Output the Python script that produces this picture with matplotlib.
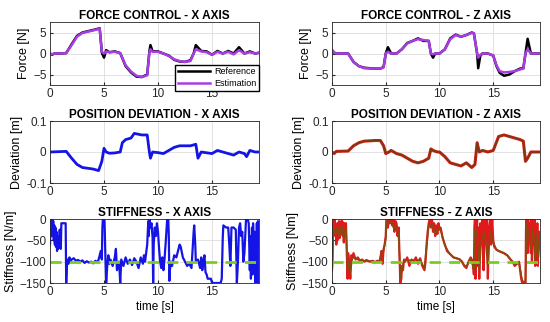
import matplotlib
matplotlib.use('Agg')
import matplotlib.pyplot as plt

plt.rcParams['font.family'] = ['Liberation Sans', 'DejaVu Sans']

# ---- force X ----
t_fx = [0, 0.2, 0.4, 1.0, 1.5, 2.0, 2.5, 3.0, 3.5, 4.0, 4.6, 4.8, 5.0, 5.2, 5.5, 6.0, 6.5,
        7.0, 7.5, 8.0, 8.5, 9.0, 9.2, 9.3, 9.5, 10.0, 10.5, 11.0, 11.5, 12.0, 12.5, 13.0,
        13.3, 13.5, 14.0, 14.5, 15.0, 15.5, 16.0, 16.5, 17.0, 17.5, 18.0, 18.5, 19.0, 19.4]
fx_ref = [0, -0.3, 0, 0, 0.1, 2.2, 4.2, 5.0, 5.3, 5.6, 6.0, 0.2, -1.0, 0.8, 0.3, 0.5, 0.1,
          -3.0, -4.5, -5.5, -5.6, -5.0, 0.5, 2.0, 0.5, 0.5, 0.0, -0.5, -1.5, -1.9, -2.0, -1.6,
          0.0, 2.0, 0.6, 0.5, -0.3, 0.6, 0.0, 0.6, 0.0, 1.5, 0.0, 0.5, 0.0, 0.2]
fx_est = [0, -0.2, 0, 0, 0.1, 2.0, 4.0, 4.9, 5.2, 5.5, 5.9, 0.4, 0.0, 0.5, 0.3, 0.4, 0.1,
          -2.8, -4.3, -5.3, -5.6, -5.2, 0.2, 1.0, 0.4, 0.4, 0.0, -0.6, -1.4, -1.8, -2.0, -1.8,
          0.0, 1.0, 0.5, 0.3, -0.3, 0.4, 0.0, 0.4, -0.2, 0.8, 0.0, 0.3, 0.0, 0.2]

# ---- force Z ----
t_fz = [0, 0.2, 0.4, 1.0, 1.5, 2.0, 2.5, 3.0, 4.0, 4.5, 4.8, 5.0, 5.2, 5.5, 6.0, 6.5, 7.0,
        7.5, 8.0, 8.5, 9.0, 9.2, 9.4, 9.6, 10.0, 10.5, 11.0, 11.5, 12.0, 12.5, 13.0, 13.2,
        13.5, 13.6, 13.8, 14.0, 14.5, 15.0, 15.3, 15.6, 16.0, 16.5, 17.0, 17.5, 17.8, 18.0,
        18.2, 18.5, 19.0, 19.4]
fz_ref = [0.8, 0.2, 0, 0, 0, -2.0, -3.0, -3.4, -3.6, -3.6, -3.2, 0.0, 1.5, 0.0, 0.0, 1.0, 2.5,
          3.0, 3.6, 3.0, 3.0, 0.0, -1.0, 0.0, 0.0, 1.0, 3.6, 4.5, 4.0, 4.4, 5.0, 4.8,
          0.0, -3.5, -0.5, 0.0, 0.0, -0.5, -3.0, -4.6, -5.3, -5.0, -4.2, -3.6, -3.5, 0.0,
          3.5, 0.0, 0.0, 0.0]
fz_est = [0.8, 0.2, 0, 0, 0, -2.0, -3.0, -3.5, -3.6, -3.6, -3.3, 0.0, 0.4, 0.0, 0.0, 1.0, 2.4,
          3.0, 3.4, 3.2, 3.0, 0.0, -0.2, 0.0, 0.0, 1.0, 3.4, 4.4, 4.0, 4.4, 4.9, 4.8,
          0.0, -1.0, -0.3, 0.0, 0.0, -0.5, -2.8, -4.2, -4.5, -4.4, -4.2, -3.8, -3.6, 0.0,
          1.0, 0.0, 0.0, 0.0]

# ---- position deviation X ----
t_px = [0, 1.5, 2.0, 2.5, 3.0, 4.0, 4.5, 4.8, 5.0, 5.2, 5.5, 6.0, 6.5, 6.7, 7.0, 7.5, 7.8,
        8.5, 9.0, 9.2, 9.3, 9.5, 10.0, 10.5, 11.0, 11.5, 12.0, 13.0, 13.5, 13.7, 14.0, 15.0,
        15.5, 16.0, 17.0, 17.5, 18.0, 18.2, 18.5, 19.0, 19.4]
px = [0, 0.002, -0.02, -0.04, -0.05, -0.055, -0.06, -0.03, 0.012, 0.0, -0.004, -0.003, 0.0,
      0.03, 0.04, 0.045, 0.06, 0.055, 0.055, 0.0, -0.02, 0.0, -0.002, -0.005, 0.005, 0.015,
      0.02, 0.02, 0.025, -0.02, 0.0, -0.005, 0.005, 0.0, -0.01, 0.0, -0.005, -0.015, 0.005,
      0.0, 0.0]

# ---- position deviation Z ----
t_pz = [0, 0.2, 0.4, 1.5, 2.0, 2.5, 3.0, 4.0, 4.5, 4.8, 5.0, 5.3, 5.5, 6.0, 6.5, 7.0, 7.5,
        8.0, 8.5, 9.0, 9.2, 9.4, 9.8, 10.0, 10.5, 11.0, 11.5, 12.0, 12.5, 13.0, 13.3, 13.5,
        13.7, 14.0, 14.5, 15.0, 15.5, 16.0, 16.5, 17.0, 17.5, 17.8, 18.0, 18.2, 18.5, 19.0,
        19.4]
pz = [0, -0.005, 0.002, 0.003, 0.02, 0.03, 0.035, 0.037, 0.037, 0.02, -0.005, 0.0, 0.005,
      -0.005, -0.01, -0.02, -0.03, -0.035, -0.03, -0.02, 0.01, 0.005, 0.0, 0.0, -0.015, -0.035,
      -0.04, -0.045, -0.035, -0.05, -0.04, 0.03, 0.0, 0.005, 0.0, 0.005, 0.05, 0.055, 0.05,
      0.045, 0.04, 0.035, -0.03, -0.02, 0.0, 0.0, 0.0]

# ---- stiffness X ----
t_sx = [0.0, 0.05, 0.1, 0.15, 0.2, 0.25, 0.3, 0.35, 0.4, 0.45, 0.5, 0.55, 0.6, 0.65, 0.7,
        0.75, 0.8, 0.85, 0.9, 0.95, 1.0, 1.05, 1.1, 1.45, 1.5, 1.55, 1.6, 1.7, 1.8, 1.9, 2.0,
        2.2, 2.4, 2.6, 2.8, 3.0, 3.2, 3.4, 3.6, 3.8, 4.0, 4.2, 4.4, 4.5, 4.6, 4.7, 4.8, 4.85,
        4.9, 5.0, 5.05, 5.1, 5.2, 5.3, 5.4, 5.5, 5.6, 5.8, 6.0, 6.1, 6.2, 6.4, 6.5, 6.6, 6.8,
        7.0, 7.2, 7.4, 7.6, 7.8, 8.0, 8.2, 8.4, 8.6, 8.7, 8.8, 8.9, 9.0, 9.05, 9.1, 9.15, 9.2,
        9.3, 9.4, 9.5, 9.55, 9.6, 9.7, 9.8, 9.9, 10.0, 10.1, 10.2, 10.3, 10.4, 10.5, 10.6,
        10.7, 10.8, 10.85, 10.95, 11.0, 11.05, 11.1, 11.2, 11.3, 11.5, 11.7, 11.9, 12.0, 12.1,
        12.3, 12.5, 12.7, 12.9, 13.1, 13.3, 13.35, 13.45, 13.5, 13.7, 13.9, 14.0, 14.1, 14.2,
        14.3, 14.4, 14.5, 14.6, 14.9, 15.0, 15.8, 15.9, 16.0, 16.05, 16.3, 16.5, 16.6, 16.7,
        16.8, 17.0, 17.2, 17.3, 17.4, 17.5, 17.6, 17.7, 17.8, 17.9, 18.0, 18.1, 18.15, 18.3,
        18.4, 18.5, 18.55, 18.6, 18.7, 18.75, 18.8, 18.9, 18.95, 19.0, 19.05, 19.1, 19.15,
        19.2, 19.25, 19.3, 19.35]
sx = [-60, -20, -5, -40, 0, -30, -5, -50, -15, -60, -20, -65, -30, -75, -50,
      -70, -40, -65, -25, -55, -70, -10, -10, -10, -150, -115, -95, -105, -90, -100, -95,
      -92, -98, -96, -100, -97, -103, -99, -102, -100, -104, -98, -101, -95, -85, -75, -95, -20,
      0, 0, -5, -60, -150, -110, -85, -105, -95, -110, -90, -70, -120, -100, -150, -95, -110,
      -90, -105, -95, -108, -92, -100, -115, -90, -105, -85, -100, -80, -60, -30, -5, -40, 0,
      -20, -10, -45, -150, -60, -20, -40, -10, -30, -70, -100, -115, -90, -120, -95,
      -60, -20, 0, 0, -40, -145, -120, -100, -110, -85, -90, -70, -60, -65,
      -90, -100, -110, -105, -115, -30, -15, -60, -100, -95, -115, -90, -120, -100,
      -85, -125, -130, -140, -140, -150, -150, -140, -40, -15, -20, -20, -60, -110,
      -20, -20, -25, -150, -100, -20, -10, -40, -30, -100, -80, -30, 0, 0,
      -10, -120, -40, -140, -20, -130, -10, -100, -30, -150, -50, -130, -10,
      -150, -5, -60, -30]

# ---- stiffness Z (two series) ----
t_sza = [0.0, 0.05, 0.1, 0.15, 0.2, 0.25, 0.3, 0.35, 0.4, 0.45, 0.5, 0.55, 0.6, 0.65, 0.7,
         0.75, 0.8, 0.85, 0.9, 0.95, 1.0, 1.05, 1.1, 1.15, 1.2, 1.3, 1.35, 1.4, 1.45, 1.5, 1.6,
         1.7, 1.8, 1.9, 2.0, 2.2, 2.4, 2.6, 2.8, 3.0, 3.2, 3.5, 3.8, 4.0, 4.2, 4.4, 4.5, 4.6,
         4.7, 4.8, 4.9, 5.0, 5.05, 5.1, 5.2, 5.3, 5.4, 5.5, 5.6, 5.7, 5.8, 5.9, 6.0, 6.1, 6.2,
         6.3, 6.35, 6.45, 6.5, 6.6, 6.7, 6.8, 7.0, 7.2, 7.4, 7.6, 7.8, 8.0, 8.2, 8.4, 8.6, 8.7,
         8.8, 8.9, 9.0, 9.1, 9.2, 9.3, 9.4, 9.5, 9.6, 9.7, 9.8, 9.9, 10.0, 10.1, 10.3, 10.5,
         10.7, 10.9, 11.1, 11.3, 11.6, 11.9, 12.1, 12.3, 12.5, 12.7, 12.9, 13.1, 13.2, 13.25,
         13.3, 13.35, 13.4, 13.5, 13.55, 13.6, 13.7, 13.8, 13.9, 14.0, 14.1, 14.2, 14.3, 14.4,
         14.5, 14.6, 14.7, 14.8, 14.9, 15.0, 15.1, 15.3, 15.5, 15.8, 16.0, 16.3, 16.6, 16.8,
         17.0, 17.2, 17.4, 17.5, 17.6, 17.7, 17.9, 18.0, 18.05, 18.1, 18.2, 18.25, 18.3, 18.4,
         18.5, 18.55, 18.6, 18.7, 18.8, 18.85, 18.9, 19.0, 19.05, 19.1, 19.15, 19.2, 19.3,
         19.35]
sz_a = [-120, -100, -10, 0, -20, 0, -40, -10, -60, -20, -50, -10, -30, -5, -45,
        -15, -35, -5, -20, -5, -40, -10, -55, -10, -20, -10, -60, -100, -140, -80, -100,
        -140, -85, -90, -80, -95, -90, -98, -95, -100, -96, -100, -98, -102, -98, -100, -92, -75,
        -105, -70, -60, -40, -5, 0, -20, 0, -10, 0, -15, 0, -30, -5, -10, -40, -20,
        -100, -150, -140, -110, -120, -95, -100, -90, -110, -95, -100, -90, -105, -92, -110, -120, -100,
        -60, -30, -10, 0, -20, 0, -30, -10, -40, -15, -35, -10, -25, -20, -45, -60,
        -75, -80, -85, -90, -92, -95, -100, -110, -115, -100, -90, -100, -130, -20,
        0, -140, -30, 0, -110, -20, -140, -10, -60, 0, -120, 0, -50, 0,
        -140, -20, 0, -60, 0, -50, -65, -72, -75, -78, -80, -85, -95, -100,
        -110, -105, -100, -120, -140, -150, -150, -150, -20, 0, -80, 0, -50, -10,
        -80, 0, -100, -10, -60, 0, -110, -20, -100, -10, -110, -50, -30,
        -40]
t_szb = [0.0, 0.1, 0.3, 0.5, 0.7, 0.9, 1.1, 1.3, 1.45, 1.6, 1.7, 1.9, 2.2, 2.6, 3.0, 3.5,
         4.0, 4.4, 4.6, 4.8, 5.0, 5.1, 5.3, 5.5, 5.8, 6.0, 6.2, 6.3, 6.4, 6.5, 6.7, 7.0, 7.4,
         7.8, 8.2, 8.6, 8.8, 9.0, 9.3, 9.6, 9.9, 10.1, 10.5, 10.9, 11.3, 11.9, 12.3, 12.5,
         12.9, 13.2, 13.3, 13.5, 13.7, 13.9, 14.2, 14.5, 14.7, 15.0, 15.3, 15.8, 16.3, 16.8,
         17.0, 17.4, 17.7, 18.0, 18.1, 18.3, 18.5, 18.7, 18.9, 19.1, 19.2, 19.35]
sz_b = [-115, -20, -35, -20, -40, -15, -45, -20, -120, -95, -125, -90, -93, -97, -98, -99,
        -100, -99, -80, -75, -45, -5, -10, -5, -25, -15, -40, -100, -140, -115, -98, -95, -98,
        -95, -97, -115, -65, -15, -10, -35, -20, -25, -62, -80, -90, -95, -108, -112,
        -92, -120, -20, -40, -120, -50, -30, -110, -30, -55, -72, -78, -85, -100,
        -108, -102, -145, -148, -10, -40, -70, -20, -100, -30, -90, -45]
s_ref = -100

xmax = 19.35
W, H = 550, 322
fig = plt.figure(figsize=(W / 100, H / 100), dpi=100)


def mk(x0, top, bottom, width):
    return fig.add_axes([x0 / W, 1 - bottom / H, width / W, (bottom - top) / H])


axs = [[mk(50, 22, 85, 209), mk(332, 22, 85, 208)],
       [mk(50, 121, 183, 209), mk(332, 121, 183, 208)],
       [mk(50, 219, 283, 209), mk(332, 219, 283, 208)]]

purple = '#A93CE6'
blue = '#1414E6'
green = '#7ACC1E'

ax = axs[0][0]
ax.plot(t_fx, fx_ref, color='black', lw=1.8, label='Reference')
ax.plot(t_fx, fx_est, color=purple, lw=1.8, label='Estimation')
ax.set_ylim(-7.5, 7.5)
ax.set_yticks([-5, 0, 5])
ax.set_ylabel('Force [N]')
ax.set_title('FORCE CONTROL - X AXIS')
ax.legend(loc='lower right', bbox_to_anchor=(1.0, -0.09), fontsize=6.5, handlelength=3.6,
          fancybox=False, framealpha=1, edgecolor='black', borderpad=0.3, labelspacing=0.3,
          handletextpad=0.4, borderaxespad=0)

ax = axs[0][1]
ax.plot(t_fz, fz_ref, color='black', lw=1.8)
ax.plot(t_fz, fz_est, color=purple, lw=1.8)
ax.set_ylim(-7.5, 7.5)
ax.set_yticks([-5, 0, 5])
ax.set_ylabel('Force [N]')
ax.set_title('FORCE CONTROL - Z AXIS')

ax = axs[1][0]
ax.plot(t_px, px, color=blue, lw=2)
ax.set_ylim(-0.1, 0.1)
ax.set_yticks([-0.1, 0, 0.1])
ax.set_yticklabels(['-0.1', '0', '0.1'])
ax.set_ylabel('Deviation [m]')
ax.set_title('POSITION DEVIATION - X AXIS')

ax = axs[1][1]
ax.plot(t_pz, pz, color='#E01A1A', lw=2.2)
ax.plot(t_pz, pz, color='#7A3A10', lw=1.2)
ax.set_ylim(-0.1, 0.1)
ax.set_yticks([-0.1, 0, 0.1])
ax.set_yticklabels(['-0.1', '0', '0.1'])
ax.set_ylabel('Deviation [m]')
ax.set_title('POSITION DEVIATION - Z AXIS')

ax = axs[2][0]
ax.plot(t_sx, sx, color=blue, lw=1.6)
ax.axhline(s_ref, color=green, lw=2, ls=(0, (4, 3)))
ax.set_ylim(-150, 0)
ax.set_yticks([-150, -100, -50, 0])
ax.set_ylabel('Stiffness [N/m]')
ax.set_xlabel('time [s]')
ax.set_title('STIFFNESS - X AXIS')

ax = axs[2][1]
ax.plot(t_sza, sz_a, color='#E01A1A', lw=1.6)
ax.plot(t_szb, sz_b, color='#8A4A10', lw=1.2)
ax.axhline(s_ref, color=green, lw=2, ls=(0, (4, 3)))
ax.set_ylim(-150, 0)
ax.set_yticks([-150, -100, -50, 0])
ax.set_ylabel('Stiffness [Nm]')
ax.set_xlabel('time [s]')
ax.set_title('STIFFNESS - Z AXIS')

for row in axs:
    for ax in row:
        ax.set_xlim(0, xmax)
        ax.set_xticks([0, 5, 10, 15])
        ax.grid(True, color='#DDDDDD', lw=0.6)
        ax.tick_params(labelsize=8.5, length=2, direction='in', colors='#262626', pad=2.5)
        ax.set_title(ax.get_title(), fontsize=8.5, fontweight='bold', pad=2)
        ax.yaxis.label.set_size(9)
        ax.xaxis.label.set_size(8.5)
        ax.yaxis.labelpad = 2
        ax.xaxis.labelpad = 2
        for s in ax.spines.values():
            s.set_color('#262626')
            s.set_linewidth(0.6)

fig.savefig('out.png', dpi=100)
